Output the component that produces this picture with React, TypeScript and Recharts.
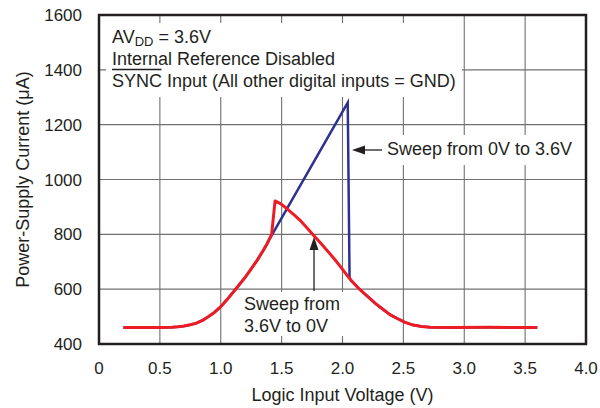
import { LineChart, Line, XAxis, YAxis, CartesianGrid } from "recharts";

// axis ticks
const xTicks = [0, 0.5, 1, 1.5, 2, 2.5, 3, 3.5, 4];
const xTickLabels = ["0", "0.5", "1.0", "1.5", "2.0", "2.5", "3.0", "3.5", "4.0"];
const yTicks = [400, 600, 800, 1000, 1200, 1400, 1600];

// sweep from 3.6V to 0V (red)
const downVolts = [
  0.2, 0.5, 0.6, 0.65, 0.7, 0.75, 0.8, 0.85, 0.9, 0.95, 1.0, 1.05, 1.1, 1.15, 1.2, 1.25, 1.3, 1.35, 1.38, 1.418,
  1.446, 1.49, 1.54, 1.6, 1.65, 1.7, 1.76, 1.82, 1.87, 1.93, 1.98, 2.03, 2.075, 2.13, 2.2, 2.27, 2.31, 2.39, 2.445,
  2.51, 2.58, 2.65, 2.72, 2.9, 3.2, 3.6,
];
const downCurrent = [
  460, 460, 461, 463, 466, 470, 476, 486, 500, 516, 536, 561, 588, 615, 643, 674, 706, 742, 765, 800,
  922, 912, 895, 872, 852, 828, 798, 768, 743, 712, 684, 655, 630, 604, 576, 548, 534, 507, 494,
  480, 469, 464, 461, 460, 461, 460,
];

// sweep from 0V to 3.6V (blue)
const upVolts = [
  0.2, 0.5, 0.6, 0.65, 0.7, 0.75, 0.8, 0.85, 0.9, 0.95, 1.0, 1.05, 1.1, 1.15, 1.2, 1.25, 1.3, 1.35, 1.38, 1.395,
  2.043, 2.058, 2.075, 2.13, 2.2, 2.27, 2.31, 2.39, 2.445, 2.51, 2.58, 2.65, 2.72, 2.9, 3.2, 3.6,
];
const upCurrent = [
  460, 460, 461, 463, 466, 470, 476, 486, 500, 516, 536, 561, 588, 615, 643, 674, 706, 742, 765, 778,
  1280, 640, 630, 604, 576, 548, 534, 507, 494, 480, 469, 464, 461, 460, 461, 460,
];

const W = 600;
const H = 408;
const LEFT = 99;
const RIGHT = 586;
const TOP = 15;
const BOTTOM = 344;
const X_AXIS_H = 30;
const FONT = "'Liberation Sans', Arial, Helvetica, sans-serif";
const INK = "#231f20";

const downData = downVolts.map((v, i) => ({ v, i: downCurrent[i] }));
const upData = upVolts.map((v, i) => ({ v, i: upCurrent[i] }));

const App = () => {
  return (
    <div style={{ position: "absolute", left: 0, top: 0, width: W, height: H, background: "#fff" }}>
      <LineChart
        width={W}
        height={H}
        margin={{ top: TOP, right: W - RIGHT, bottom: H - BOTTOM - X_AXIS_H, left: 0 }}
      >
        <CartesianGrid stroke="#707070" strokeWidth={1.1} />
        <XAxis
          dataKey="v"
          type="number"
          domain={[0, 4]}
          ticks={xTicks}
          tickFormatter={(v: number) => xTickLabels[xTicks.indexOf(v)]}
          allowDataOverflow
          height={X_AXIS_H}
          axisLine={false}
          tickLine={false}
          tickSize={6}
          tickMargin={12}
          tick={{ fill: INK, fontSize: 17, fontFamily: FONT }}
        />
        <YAxis
          type="number"
          domain={[400, 1600]}
          ticks={yTicks}
          width={LEFT}
          allowDataOverflow
          axisLine={false}
          tickLine={false}
          tickSize={6}
          tickMargin={11}
          tick={{ fill: INK, fontSize: 17, fontFamily: FONT }}
        />
        <Line
          data={upData}
          dataKey="i"
          type="linear"
          stroke="#2e3192"
          strokeWidth={2.5}
          dot={false}
          isAnimationActive={false}
        />
        <Line
          data={downData}
          dataKey="i"
          type="linear"
          stroke="#ed1c24"
          strokeWidth={3}
          strokeLinejoin="round"
          dot={false}
          isAnimationActive={false}
        />
      </LineChart>

      <svg
        width={W}
        height={H}
        style={{ position: "absolute", left: 0, top: 0, pointerEvents: "none" }}
        fontFamily={FONT}
        fill={INK}
      >
        {/* white boxes behind the notes */}
        <rect x={106} y={23} width={356} height={74} fill="#fff" />
        <rect x={380} y={135} width={198} height={30} fill="#fff" />
        <rect x={239} y={292} width={106} height={44} fill="#fff" />

        <rect
          x={LEFT}
          y={TOP}
          width={RIGHT - LEFT}
          height={BOTTOM - TOP}
          fill="none"
          stroke={INK}
          strokeWidth={2.5}
        />

        <text x={112} y={43} fontSize={18}>
          AV
          <tspan fontSize={13} dy={2.5}>DD</tspan>
          <tspan dy={-2.5}> = 3.6V</tspan>
        </text>
        <text x={112} y={65} fontSize={18}>Internal Reference Disabled</text>
        <text x={112} y={87} fontSize={18}>SYNC Input (All other digital inputs = GND)</text>
        <line x1={112} x2={161.5} y1={69.5} y2={69.5} stroke={INK} strokeWidth={1.3} />

        <text x={387} y={155} fontSize={18}>Sweep from 0V to 3.6V</text>
        <line x1={382} x2={362} y1={150} y2={150} stroke={INK} strokeWidth={1.3} />
        <polygon points="352,150 365,145.5 365,154.5" fill={INK} />

        <text x={244} y={310} fontSize={18}>Sweep from</text>
        <text x={244} y={332} fontSize={18}>3.6V to 0V</text>
        <line x1={314} x2={314} y1={291} y2={248} stroke={INK} strokeWidth={1.3} />
        <polygon points="314,237 309.5,250 318.5,250" fill={INK} />

        <text x={(LEFT + RIGHT) / 2} y={401} fontSize={18} textAnchor="middle">
          Logic Input Voltage (V)
        </text>
        <text
          x={29}
          y={(TOP + BOTTOM) / 2}
          fontSize={18}
          textAnchor="middle"
          transform={`rotate(-90 29 ${(TOP + BOTTOM) / 2})`}
        >
          Power-Supply Current (μA)
        </text>
      </svg>
    </div>
  );
};

export default App;
